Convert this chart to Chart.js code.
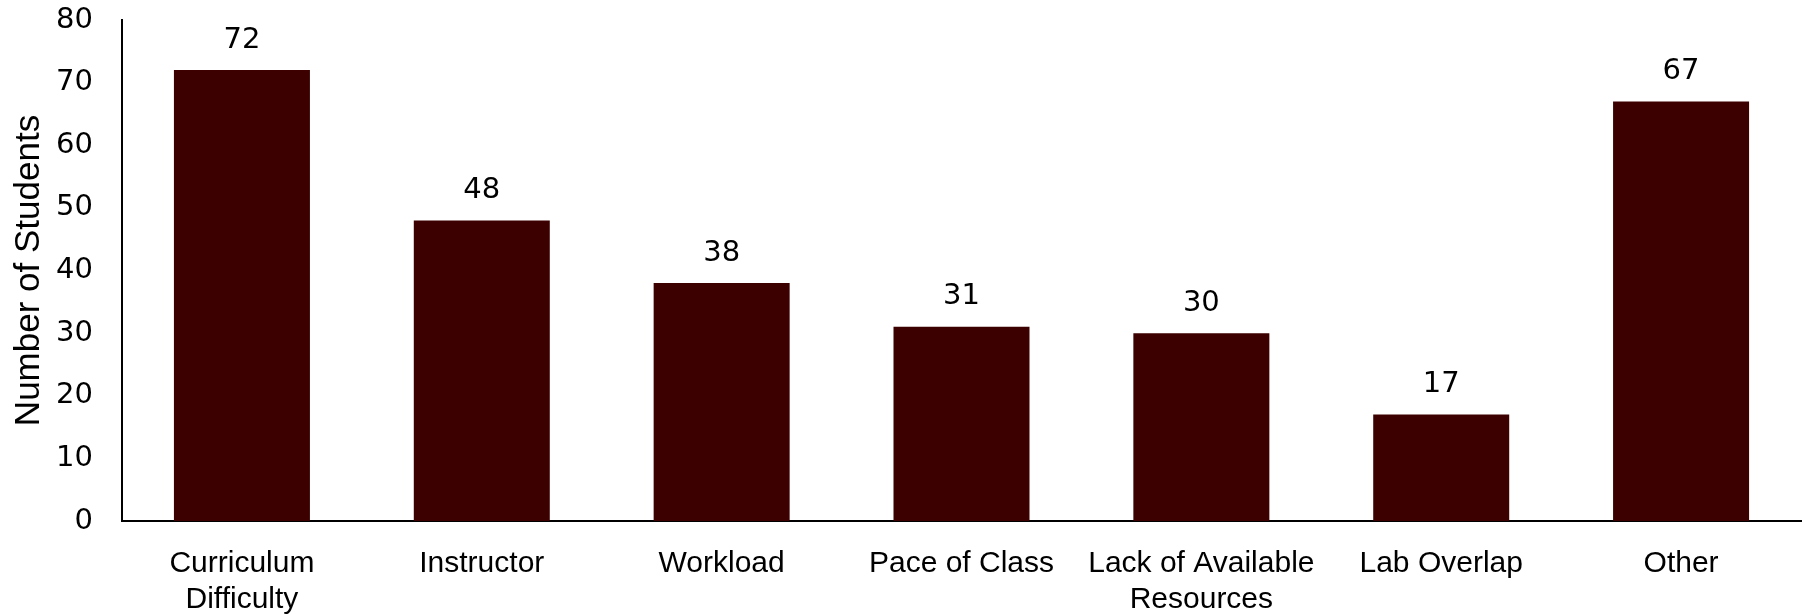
<!DOCTYPE html>
<html>
<head>
<meta charset="utf-8">
<script src="https://cdn.jsdelivr.net/npm/chart.js@4/dist/chart.umd.min.js"></script>
<style>
  html, body { margin: 0; padding: 0; background: #fff; }
  #wrap { width: 1805px; height: 615px; position: relative; }
</style>
</head>
<body>
<div id="wrap"><canvas id="reasonsChart"></canvas></div>
<script>
const categories = [
    ['Curriculum', 'Difficulty'],
    'Instructor',
    'Workload',
    'Pace of Class',
    ['Lack of Available', 'Resources'],
    'Lab Overlap',
    'Other'
];
const studentCounts = [72, 48, 38, 31, 30, 17, 67];
const yTicks = [0, 10, 20, 30, 40, 50, 60, 70, 80];

const barColor = '#3c0000';
const textFont = 'Liberation Sans, Arial, sans-serif';
const numberFont = 'DejaVu Sans, sans-serif';

// draws the number above each bar
const valueLabels = {
    id: 'valueLabels',
    afterDatasetsDraw(chart) {
        const ctx = chart.ctx;
        const meta = chart.getDatasetMeta(0);
        ctx.save();
        ctx.font = '29px ' + numberFont;
        ctx.fillStyle = '#000';
        ctx.textAlign = 'center';
        ctx.textBaseline = 'middle';
        meta.data.forEach((bar, i) => {
            ctx.fillText(String(studentCounts[i]), bar.x, bar.y - 30);
        });
        ctx.restore();
    }
};

new Chart(document.getElementById('reasonsChart').getContext('2d'), {
    type: 'bar',
    data: {
        labels: categories,
        datasets: [{
            data: studentCounts,
            backgroundColor: barColor,
            barPercentage: 0.567,
            categoryPercentage: 1.0
        }]
    },
    options: {
        responsive: true,
        maintainAspectRatio: false,
        animation: false,
        layout: { padding: { top: 20, right: 4, bottom: 0, left: 0 } },
        plugins: {
            legend: { display: false },
            tooltip: { enabled: false }
        },
        scales: {
            x: {
                grid: { display: false, drawTicks: false },
                border: { display: true, color: '#000', width: 2 },
                afterFit: scale => {
                    scale.height = 94;
                    scale.paddingLeft = 0;
                    scale.paddingRight = 0;
                },
                ticks: {
                    color: '#000',
                    padding: 24,
                    maxRotation: 0,
                    autoSkip: false,
                    font: { family: textFont, size: 30, lineHeight: 1.22 }
                }
            },
            y: {
                min: 0,
                max: 80,
                afterBuildTicks: scale => {
                    scale.ticks = yTicks.map(v => ({ value: v }));
                },
                afterFit: scale => {
                    scale.width = 122;
                    scale.paddingTop = 0;
                    scale.paddingBottom = 0;
                },
                grid: { display: false, drawTicks: false },
                border: { display: true, color: '#000', width: 2 },
                ticks: {
                    color: '#000',
                    padding: 29,
                    font: { family: numberFont, size: 29 }
                },
                title: {
                    display: true,
                    text: 'Number of Students',
                    color: '#000',
                    padding: { top: 8, bottom: 0 },
                    font: { family: textFont, size: 35 }
                }
            }
        }
    },
    plugins: [valueLabels]
});
</script>
</body>
</html>
